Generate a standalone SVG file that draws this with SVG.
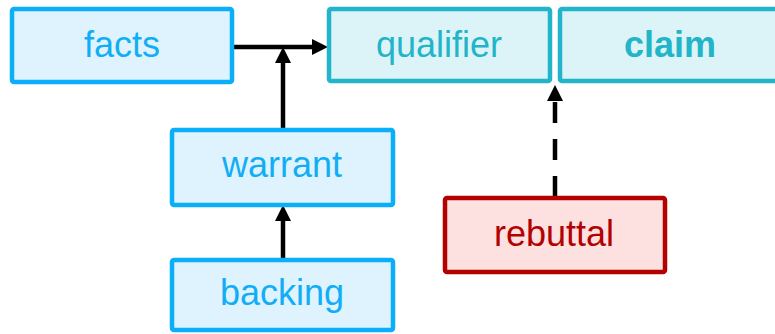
<svg xmlns="http://www.w3.org/2000/svg" width="775" height="334" viewBox="0 0 775 334">
<defs>
<style>
.blue rect{fill:#DFF3FE;stroke:#0BAFF9;stroke-width:4.5}
.blue text{fill:#12AEF5}
.teal rect{fill:#DCF4F7;stroke:#22B4C9;stroke-width:4.5}
.teal text{fill:#22B4C9}
.red rect{fill:#FDE0E0;stroke:#B30000;stroke-width:4.5}
.red text{fill:#B30000}
text{font-family:"Liberation Sans",Arial,sans-serif;font-size:36px;text-anchor:middle}
.edge{stroke:#000;stroke-width:4.5;fill:none}
.dash{stroke-dasharray:21 16}
</style>
<marker id="ah" viewBox="0 0 16 16" refX="16" refY="8" markerWidth="16" markerHeight="16" markerUnits="userSpaceOnUse" orient="auto">
<path d="M0,0 L16,8 L0,16 Z" fill="#000"/>
</marker>
</defs>
<g id="connectors">
<path class="edge" d="M234,47 L312,47"/>
<path d="M312,39 L328,47 L312,55 Z" fill="#000"/>
<path class="edge" d="M283,128 L283,62"/>
<path d="M275,63 L283,47 L291,63 Z" fill="#000"/>
<path class="edge" d="M283,258 L283,220"/>
<path d="M275,221 L283,205 L291,221 Z" fill="#000"/>
<path class="edge dash" d="M555,102 L555,197"/>
<path d="M547,101 L555,85 L563,101 Z" fill="#000"/>
</g>
<g id="facts" class="blue"><rect x="12" y="9" width="220" height="73" rx="2"/><text x="122" y="57">facts</text></g>
<g id="qualifier" class="teal"><rect x="329" y="9" width="221" height="72" rx="2"/><text x="439" y="57">qualifier</text></g>
<g id="claim" class="teal"><rect x="560" y="9" width="225" height="72" rx="2"/><text x="670" y="57" font-weight="bold">claim</text></g>
<g id="warrant" class="blue"><rect x="172" y="130" width="221" height="75" rx="2"/><text x="282" y="177">warrant</text></g>
<g id="backing" class="blue"><rect x="172" y="260" width="221" height="70" rx="2"/><text x="282" y="305">backing</text></g>
<g id="rebuttal" class="red"><rect x="445" y="198" width="220" height="74" rx="2"/><text x="554" y="246">rebuttal</text></g>
</svg>
